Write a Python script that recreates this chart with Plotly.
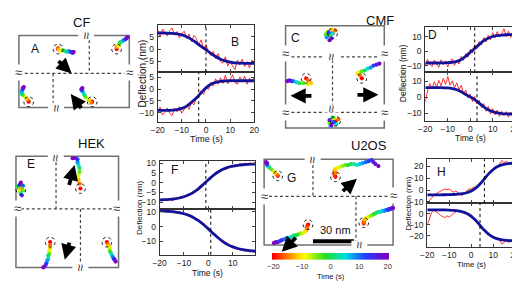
import plotly.graph_objects as go

W, H = 520, 282
FONT = "Liberation Sans, Arial, sans-serif"

# ------------------------------------------------------------------ data
T_RED = [-20, -19, -18, -17, -16, -15, -14, -13, -12, -11, -10, -9, -8, -7, -6, -5, -4, -3, -2, -1,
         0, 1, 2, 3, 4, 5, 6, 7, 8, 9, 10, 11, 12, 13, 14, 15, 16, 17, 18, 19, 20]
T_FIT = [-20, -18, -16, -14, -12, -10, -8, -6, -4, -2, 0, 2, 4, 6, 8, 10, 12, 14, 16, 18, 20]
T_TRAJ11 = [-20, -16, -12, -8, -4, 0, 4, 8, 12, 16, 20]
T_TRAJ21 = [-20, -18, -16, -14, -12, -10, -8, -6, -4, -2, 0, 2, 4, 6, 8, 10, 12, 14, 16, 18, 20]

B_TOP_RED = [7.9, 5.0, 8.2, 7.0, 5.4, 7.6, 8.6, 5.7, 7.2, 4.6, 6.4, 7.3, 4.4, 6.2, 3.1, 5.6, 4.4, 1.7, 3.8, 0.0,
             1.9, -1.2, -2.6, -0.9, -3.9, -1.8, -5.0, -5.7, -3.1, -6.9, -4.7, -7.0, -8.3, -4.5, -6.5, -4.1,
             -7.1, -5.1, -7.7, -4.4, -6.4]
B_TOP_FIT = [6.6, 6.6, 6.5, 6.4, 6.2, 5.8, 5.1, 4.0, 2.6, 1.1, -0.2, -1.7, -3.0, -4.1, -4.8, -5.3, -5.6, -5.7,
             -5.8, -5.8, -5.8]
B_BOT_RED = [-9.5, -7.6, -11.0, -9.8, -8.0, -10.3, -11.2, -8.2, -9.6, -7.5, -10.2, -8.7, -7.0, -8.6, -5.5, -6.7,
             -4.0, -3.4, -0.8, -2.3, 1.2, -0.2, 2.8, 1.2, 4.3, 2.0, 4.8, 2.4, 5.8, 2.2, 4.4, 6.0, 2.7, 2.1, 5.1,
             3.0, 5.4, 2.0, 4.6, 2.9, 5.2]
B_BOT_FIT = [-9.0, -9.0, -9.0, -8.9, -8.7, -8.2, -7.2, -5.6, -3.8, -1.6, 0.5, 2.0, 2.8, 3.2, 3.4, 3.5, 3.5, 3.5,
             3.5, 3.5, 3.5]

D_TOP_RED = [-9.5, -5.5, -8.8, -10.5, -6.0, -8.5, -11.0, -5.8, -9.2, -6.5, -10.8, -7.0, -5.2, -9.6, -6.0, -8.8,
             -3.5, -6.2, -1.5, -4.0, 1.5, -1.2, 4.5, 1.8, 6.8, 4.2, 9.5, 6.4, 11.0, 8.0, 12.8, 9.2, 13.5, 9.8,
             12.0, 15.5, 10.2, 13.8, 9.6, 12.5, 10.8]
D_TOP_FIT = [-8.0, -8.0, -8.0, -8.0, -7.9, -7.8, -7.5, -6.9, -5.6, -3.4, -0.6, 2.0, 4.8, 7.3, 9.0, 10.2, 10.8,
             11.2, 11.4, 11.5, 11.5]
D_BOT_RED = [-3.0, 4.0, 8.5, 5.2, 9.8, 6.0, 10.5, 7.2, 11.8, 8.0, 13.0, 7.5, 10.2, 6.0, 9.0, 4.8, 7.5, 2.2, 4.5,
             -0.5, 2.0, -2.8, 0.4, -4.2, -1.8, -6.5, -4.0, -8.8, -5.8, -10.5, -7.2, -11.0, -8.0, -12.0, -8.8,
             -11.5, -9.0, -12.5, -9.5, -11.8, -10.0]
D_BOT_FIT = [6.0, 6.0, 6.0, 6.0, 5.9, 5.8, 5.4, 4.7, 3.4, 1.7, 0.2, -1.5, -3.8, -6.0, -7.8, -9.0, -9.8, -10.2,
             -10.4, -10.5, -10.5]

F_TOP_RED = [-8.5, -9.6, -8.2, -9.3, -8.0, -9.4, -8.6, -7.5, -8.4, -7.0, -7.6, -6.3, -6.8, -5.2, -5.6, -3.5, -3.9,
             -1.6, -1.5, 0.6, 0.9, 2.9, 3.0, 5.0, 4.8, 6.6, 6.2, 7.9, 7.2, 8.6, 7.9, 9.3, 8.4, 9.8, 8.7, 10.2,
             9.0, 10.1, 9.6, 10.3, 9.4]
F_TOP_FIT = [-8.84, -8.74, -8.57, -8.31, -7.88, -7.23, -6.24, -4.86, -3.04, -0.84, 1.45, 3.65, 5.45, 6.84, 7.83,
             8.48, 8.9, 9.17, 9.34, 9.44, 9.5]
F_BOT_RED = [11.5, 10.2, 11.0, 10.0, 11.2, 9.6, 10.8, 9.0, 10.1, 8.7, 9.5, 7.7, 8.4, 6.5, 7.0, 4.8, 4.9, 2.4, 2.5,
             -0.5, -0.8, -3.6, -3.8, -6.5, -6.6, -9.3, -9.2, -11.6, -11.2, -13.4, -12.8, -14.8, -14.0, -16.0,
             -14.9, -16.8, -15.5, -17.3, -15.9, -17.6, -16.2]
F_BOT_FIT = [10.74, 10.6, 10.38, 10.03, 9.53, 8.76, 7.67, 6.12, 4.07, 1.51, -1.45, -4.55, -7.5, -10.07, -12.12,
             -13.66, -14.76, -15.53, -16.03, -16.37, -16.6]

H_TOP_RED = [-11.0, -8.5, -6.0, -4.5, -3.0, -2.0, -1.0, 0.5, 1.0, 0.2, 0.8, -0.5, -1.8, -0.8, -2.5, -3.8, -4.5,
             -2.0, -0.5, 0.8, 1.0, 2.5, 2.0, 4.0, 5.5, 6.0, 9.0, 12.0, 14.0, 15.5, 17.0, 18.0, 20.5, 22.0, 25.0,
             23.0, 24.5, 22.5, 23.0, 21.5, 23.5]
H_TOP_FIT = [-4.0, -4.0, -4.0, -4.0, -3.93, -3.87, -3.75, -3.51, -3.07, -2.25, -0.78, 1.64, 5.15, 9.5, 13.85,
             17.36, 19.79, 21.26, 22.06, 22.52, 22.75]
H_BOT_RED = [-10.0, -5.0, 1.0, 3.0, 2.0, 0.5, -1.5, -2.5, -3.5, -2.0, -3.0, -1.5, 0.5, 1.5, 3.0, 2.0, 1.0, 2.0,
             0.0, -1.5, -1.0, -3.5, -5.5, -8.0, -11.0, -13.5, -15.5, -17.0, -18.5, -19.5, -20.5, -21.5, -22.5,
             -24.0, -27.5, -25.5, -24.0, -26.0, -24.5, -25.5, -24.0]
H_BOT_FIT = [3.5, 3.5, 3.49, 3.48, 3.4, 3.24, 3.0, 2.53, 1.69, 0.17, -2.35, -6.0, -10.5, -15.0, -18.65, -21.16,
             -22.68, -23.53, -24.0, -24.24, -24.37]

FIT_CENTERS = [0, -3, 2, 3, -1, 1, 6, 4]   # B top, B bot, D top, D bot, F top, F bot, H top, H bot
X_TICKS = [-20, -10, 0, 10, 20]

# bead trajectories (diagram coordinates), coloured by time
A1_X = [44, 44, 45, 47, 49, 51, 53, 55, 57, 59, 60]
A1_Y = [39, 38, 40, 41, 40, 41, 42, 41, 42, 43, 42]
A2_X = [104, 104, 105, 106, 107, 108, 110, 111, 113, 114, 115]
A2_Y = [39, 37, 36, 35, 33, 32, 31, 30, 29, 28, 27]
A3_X = [14, 13, 12, 10, 8, 7, 7, 7, 8, 8, 9]
A3_Y = [93, 91, 90, 88, 86, 85, 83, 82, 80, 79, 78]
A4_X = [79, 78, 76, 74, 72, 71, 70, 69, 68, 68, 69]
A4_Y = [93, 94, 92, 90, 88, 86, 84, 82, 81, 80, 79]

C1_X = [325, 328, 324, 320, 318, 322, 325, 319, 321, 324, 322]
C1_Y = [23, 20, 19, 21, 24, 25, 23, 27, 22, 28, 30]
C2_X = [298, 300, 303, 300, 295, 291, 288, 285, 283, 281, 279]
C2_Y = [69, 71, 74, 75, 74, 74, 73, 72, 72, 71, 72]
C3_X = [355, 353, 351, 352, 355, 358, 361, 364, 367, 370, 373]
C3_Y = [69, 66, 64, 63, 62, 61, 59, 58, 56, 55, 54]
C4_X = [328, 331, 327, 324, 322, 325, 329, 323, 326, 322, 324]
C4_Y = [113, 111, 110, 112, 115, 109, 116, 118, 114, 112, 117]

E1_X = [6, 7, 4, 5, 8, 3, 6, 8, 5, 7, 6]
E1_Y = [183, 181, 182, 185, 184, 180, 187, 179, 178, 189, 176]
E2_X = [67, 66, 65, 65, 66, 66, 65, 64, 64, 62, 59]
E2_Y = [182, 177, 173, 169, 165, 161, 158, 155, 152, 151, 151]
E3_X = [36, 36, 36, 35, 35, 34, 34, 33, 32, 31, 29]
E3_Y = [237, 240, 243, 246, 249, 251, 254, 256, 259, 261, 263]
E4_X = [94, 95, 96, 97, 97, 98, 99, 100, 101, 102, 103]
E4_Y = [237, 239, 241, 243, 246, 248, 250, 252, 254, 255, 257]

G1_X = [269, 268, 266, 264, 262, 260, 259, 258, 258, 258, 257]
G1_Y = [169, 168, 166, 164, 162, 160, 159, 158, 157, 156, 155]
G2_X = [328, 327, 328, 327, 328, 330, 332, 335, 338, 341, 344, 347, 350, 353, 356, 359, 362, 365, 367, 369, 372]
G2_Y = [170, 168, 166, 164, 162, 161, 160, 159, 158, 158, 157, 157, 158, 157, 156, 155, 154, 153, 155, 157, 159]
G3_X = [300, 299, 299, 298, 297, 296, 294, 292, 290, 288, 286, 284, 282, 280, 278, 276, 273, 271, 269, 267, 265]
G3_Y = [219, 221, 223, 225, 226, 227, 228, 228, 229, 230, 230, 231, 232, 233, 233, 234, 235, 236, 237, 237, 238]
G4_X = [357, 357, 357, 358, 359, 360, 362, 364, 366, 368, 370, 372, 374, 376, 378, 380, 382, 383, 385, 386, 387]
G4_Y = [217, 218, 216, 214, 213, 212, 211, 210, 209, 208, 207, 206, 206, 205, 205, 204, 204, 203, 203, 202, 202]

TRAJECTORIES = [
    (A1_X, A1_Y, T_TRAJ11), (A2_X, A2_Y, T_TRAJ11), (A3_X, A3_Y, T_TRAJ11), (A4_X, A4_Y, T_TRAJ11),
    (C1_X, C1_Y, T_TRAJ11), (C2_X, C2_Y, T_TRAJ11), (C3_X, C3_Y, T_TRAJ11), (C4_X, C4_Y, T_TRAJ11),
    (E1_X, E1_Y, T_TRAJ11), (E2_X, E2_Y, T_TRAJ11), (E3_X, E3_Y, T_TRAJ11), (E4_X, E4_Y, T_TRAJ11),
    (G1_X, G1_Y, T_TRAJ11), (G2_X, G2_Y, T_TRAJ21), (G3_X, G3_Y, T_TRAJ21), (G4_X, G4_Y, T_TRAJ21),
]

TIME_SCALE = [[0.0, "#ff0000"], [0.12, "#ff7f00"], [0.27, "#ffff00"], [0.45, "#20e020"],
              [0.62, "#00e0e0"], [0.8, "#2040ff"], [1.0, "#8000c0"]]

# ------------------------------------------------------------------ layout helpers
def xdom(a, b):
    return [a / W, b / W]


def ydom(top, bottom):
    return [1 - bottom / H, 1 - top / H]


def ax(kind, k):
    return kind if k == 1 else f"{kind}{k}"


def lay(kind, k):
    return f"{kind}axis" if k == 1 else f"{kind}axis{k}"


PANELS = [
    dict(x=(146, 245), top=(14, 63), bot=(63, 114), xr=[-20, 20],
         yr=([-9.5, 10], [-14, 7]), yt=([-5, 0, 5], [-10, -5, 0, 5]),
         data=((B_TOP_RED, B_TOP_FIT), (B_BOT_RED, B_BOT_FIT)),
         letter=("B", 225, 32), ylab=(130, 64, 10), tlab=(196, 131, 9)),
    dict(x=(420, 512), top=(16, 63), bot=(63, 113), xr=[-20, 20],
         yr=([-14.5, 17], [-15, 15.5]), yt=([-10, 0, 10], [-10, 0, 10]),
         data=((D_TOP_RED, D_TOP_FIT), (D_BOT_RED, D_BOT_FIT)),
         letter=("D", 427, 25), ylab=(398, 64, 8.5), tlab=(466, 130, 8.5)),
    dict(x=(148, 246), top=(154, 203), bot=(203, 250), xr=[-20, 19.3],
         yr=([-13.5, 11], [-19, 12]), yt=([-10, -5, 0, 5, 10], [-10, 0, 10]),
         data=((F_TOP_RED, F_TOP_FIT), (F_BOT_RED, F_BOT_FIT)),
         letter=("F", 163, 163), ylab=(128, 202, 8), tlab=(197, 269, 8.5)),
    dict(x=(422, 512), top=(152, 197), bot=(197, 242), xr=[-20, 20],
         yr=([-11, 26], [-30, 9.5]), yt=([-10, 0, 10, 20], [-20, -10, 0]),
         data=((H_TOP_RED, H_TOP_FIT), (H_BOT_RED, H_BOT_FIT)),
         letter=("H", 437, 165), ylab=(402, 197, 8), tlab=(467, 260, 8)),
]

fig = go.Figure()
layout = dict(width=W, height=H, margin=dict(l=0, r=0, t=0, b=0),
              paper_bgcolor="white", plot_bgcolor="rgba(0,0,0,0)",
              showlegend=False, font=dict(family=FONT, color="#222"))
shapes, annots = [], []

TICKFONT = dict(family=FONT, size=8.5, color="#222")
k = 0
for p in PANELS:
    for part in (0, 1):
        k += 1
        red, fit = p["data"][part]
        layout[lay("x", k)] = dict(domain=xdom(*p["x"]), range=p["xr"], anchor=ax("y", k),
                                   tickvals=X_TICKS, showticklabels=(part == 1), ticks="inside", ticklen=3,
                                   mirror="ticks", showline=True, linecolor="#333", linewidth=1,
                                   showgrid=False, zeroline=False, tickfont=TICKFONT, ticklabelstandoff=0)
        dom = p["top"] if part == 0 else p["bot"]
        layout[lay("y", k)] = dict(domain=ydom(*dom), range=p["yr"][part], anchor=ax("x", k),
                                   tickvals=p["yt"][part], ticks="inside", ticklen=3, mirror="ticks",
                                   showline=True, linecolor="#333", linewidth=1, showgrid=False,
                                   zeroline=False, tickfont=TICKFONT, ticklabelstandoff=1)
        fig.add_trace(go.Scatter(x=T_RED, y=red, mode="lines", line=dict(color="#ff1a1a", width=0.9),
                                 xaxis=ax("x", k), yaxis=ax("y", k), hoverinfo="skip"))
        fig.add_trace(go.Scatter(x=T_FIT, y=fit, mode="lines", line=dict(color="#12129a", width=2.8,
                                                                        shape="spline"),
                                 xaxis=ax("x", k), yaxis=ax("y", k), hoverinfo="skip"))
        shapes.append(dict(type="line", xref=ax("x", k), yref=f"{ax('y', k)} domain",
                           x0=FIT_CENTERS[k - 1], x1=FIT_CENTERS[k - 1], y0=0, y1=1,
                           line=dict(color="black", width=1, dash="dot")))

# canvas axes for the schematic panels
layout[lay("x", 9)] = dict(domain=[0, 1], range=[0, W], visible=False, anchor="y9", fixedrange=True)
layout[lay("y", 9)] = dict(domain=[0, 1], range=[H, 0], visible=False, anchor="x9", fixedrange=True)

for tx, ty, tt in TRAJECTORIES:
    fig.add_trace(go.Scatter(x=tx, y=ty, mode="markers", xaxis="x9", yaxis="y9", hoverinfo="skip",
                             marker=dict(size=4.2, color=tt, colorscale=TIME_SCALE, cmin=-20, cmax=20,
                                         line=dict(width=0))))
    # dashed start circle around first position
    shapes.append(dict(type="circle", xref="x9", yref="y9", x0=tx[0] - 5, x1=tx[0] + 5,
                       y0=ty[0] - 5, y1=ty[0] + 5, line=dict(color="black", width=0.9, dash="dot")))

# colour bar (time)
layout[lay("x", 10)] = dict(domain=xdom(263, 383), range=[-20.5, 20.5], anchor="y10", tickvals=X_TICKS,
                            ticks="", showgrid=False, zeroline=False, showline=False,
                            tickfont=dict(family=FONT, size=7.5, color="#333"), ticklabelstandoff=1)
layout[lay("y", 10)] = dict(domain=ydom(248, 255), range=[-0.5, 0.5], anchor="x10", visible=False)
fig.add_trace(go.Heatmap(x=T_RED, y=[0], z=[T_RED], colorscale=TIME_SCALE, zmin=-20, zmax=20,
                         showscale=False, xaxis="x10", yaxis="y10", zsmooth="best", hoverinfo="skip"))

# boxes
BOX = dict(color="#707070", width=1.5)
for (x0, y0, x1, y1) in [(4, 25, 117, 99), (277, 15, 378, 120), (1, 149, 106, 263), (255, 152, 387, 240)]:
    shapes.append(dict(type="rect", xref="x9", yref="y9", x0=x0, y0=y0, x1=x1, y1=y1, line=BOX, layer="below"))

DASH = dict(color="#444", width=1.2, dash="3px,2.5px")
for (x0, y0, x1, y1) in [
    (10, 64, 112, 64), (76, 30, 76, 64), (39, 64, 39, 94),                       # A
    (283, 47, 372, 47), (283, 104, 372, 104), (325, 50, 325, 97),                 # C
    (6, 203, 101, 203), (42, 155, 42, 203), (67, 203, 67, 258),                  # E
    (260, 190, 382, 190), (305, 158, 305, 190), (349, 190, 349, 236),            # G
]:
    shapes.append(dict(type="line", xref="x9", yref="y9", x0=x0, y0=y0, x1=x1, y1=y1, line=DASH))

# scale bar
shapes.append(dict(type="line", xref="x9", yref="y9", x0=305, x1=347, y0=236, y1=236,
                   line=dict(color="black", width=4)))

# break marks (x, y, rotated)
for (bx, by, rot) in [
    (73, 25, True), (42, 99, True), (4, 63, False), (117, 63, False),
    (277, 44, False), (277, 104, False), (378, 44, False), (378, 104, False),
    (324, 47, True), (324, 100, True),
    (42, 150, True), (67, 263, True), (3, 203, False), (104, 203, False),
    (305, 153, True), (353, 240, True), (255, 190, False), (387, 189, False),
]:
    annots.append(dict(x=bx, y=by, xref="x9", yref="y9", text="≈", showarrow=False,
                       textangle=90 if rot else 0, font=dict(family=FONT, size=13, color="#333"),
                       bgcolor="white", borderpad=0, xanchor="center", yanchor="middle"))

# motion arrows (tail -> head)
for (tx0, ty0, hx, hy) in [
    (43, 50, 58, 64), (69, 101, 57, 85),
    (305, 87, 282, 87), (349, 86, 372, 86),
    (55, 180, 61, 158), (56, 236, 51, 255),
    (334, 186, 350, 172), (289, 231, 273, 247),
]:
    annots.append(dict(x=hx, y=hy, ax=tx0, ay=ty0, xref="x9", yref="y9", axref="x9", ayref="y9",
                       text="", showarrow=True, arrowhead=2, arrowwidth=3.8, arrowsize=0.8,
                       arrowcolor="black"))

# text labels
def label(txt, x, y, size, angle=0):
    annots.append(dict(x=x, y=y, xref="x9", yref="y9", text=txt, showarrow=False, textangle=angle,
                       font=dict(family=FONT, size=size, color="#111"),
                       xanchor="center", yanchor="middle"))


for txt, x, y in [("CF", 68, 12), ("CMF", 374, 10), ("HEK", 78, 136), ("U2OS", 362, 138)]:
    label(txt, x, y, 13)
for txt, x, y in [("A", 20, 39), ("C", 287, 28), ("E", 16, 157), ("G", 283, 171)]:
    label(txt, x, y, 12)
for p in PANELS:
    l, x, y = p["letter"]
    label(l, x, y, 12)
    label("Deflection (nm)", p["ylab"][0], p["ylab"][1], p["ylab"][2], angle=-90)
    label("Time (s)", p["tlab"][0], p["tlab"][1], p["tlab"][2])
label("30 nm", 328, 225, 11)
label("Time (s)", 323, 272, 7.5)

layout["shapes"] = shapes
layout["annotations"] = annots
fig.update_layout(**layout)
fig.write_html("out.html")
